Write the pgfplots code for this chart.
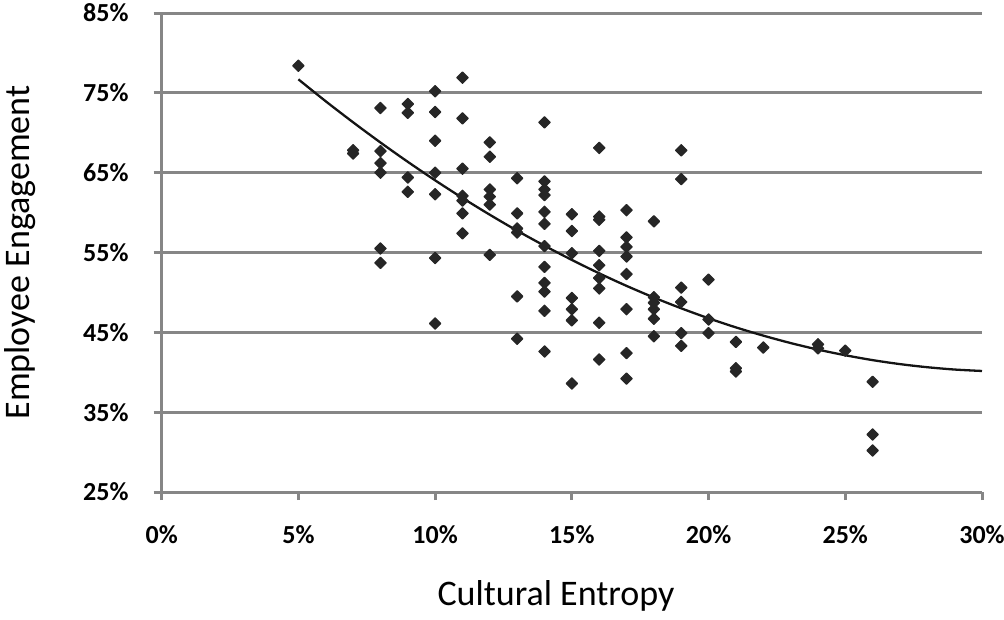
\documentclass[border=0pt]{standalone}
\usepackage{pgfplots}
\pgfplotsset{compat=1.18}
\usepackage{fontspec}
\setmainfont{Carlito}
\definecolor{gridgray}{RGB}{134,134,134}
\definecolor{markc}{RGB}{38,38,38}
\definecolor{trendc}{RGB}{20,20,20}
\begin{document}
\begin{tikzpicture}
\useasboundingbox (-161.7pt,-127pt) rectangle (842.3pt,492pt);
\begin{axis}[
  scale only axis,
  width=820.3pt, height=479pt,
  xmin=0, xmax=30, ymin=25, ymax=85,
  xtick={0,5,...,30}, ytick={25,35,...,85},
  xticklabel={\pgfmathprintnumber{\tick}\%},
  yticklabel={\pgfmathprintnumber{\tick}\%},
  /pgf/number format/assume math mode=true,
  axis lines*=left,
  axis line style={gridgray, line width=3pt},
  tick style={gridgray, line width=3pt},
  tick align=outside,
  major tick length=8pt,
  ymajorgrids,
  grid style={gridgray, line width=3pt},
  xticklabel style={font=\fontsize{26}{30}\selectfont\bfseries, anchor=north, inner sep=0pt, yshift=-25pt},
  yticklabel style={font=\fontsize{26}{30}\selectfont\bfseries, anchor=east, inner sep=0pt, xshift=-25pt},
  xlabel={Cultural Entropy},
  ylabel={Employee Engagement},
  xlabel style={font=\fontsize{36}{40}\selectfont, at={(axis description cs:0.4807,-0.2359)}, anchor=base, inner sep=0pt},
  ylabel style={font=\fontsize{36}{40}\selectfont, at={(axis description cs:-0.1606,0.5)}, anchor=base, rotate=0, inner sep=0pt},
  clip=false,
]
\addplot[only marks, mark=square*, mark size=4pt, mark options={rotate=45, fill=markc, draw=markc, line width=1.2pt, line join=round}] coordinates {
(5,78.4)
(7,67.8) (7,67.4)
(8,73.1) (8,67.7) (8,66.2) (8,65.0) (8,55.5) (8,53.7)
(9,73.6) (9,72.5) (9,64.4) (9,62.6)
(10,75.2) (10,72.6) (10,69.0) (10,65.0) (10,62.3) (10,54.3) (10,46.1)
(11,76.9) (11,71.8) (11,65.5) (11,62.1) (11,61.5) (11,59.9) (11,57.4)
(12,68.8) (12,67.0) (12,62.9) (12,62.0) (12,61.0) (12,54.7)
(13,64.3) (13,59.9) (13,58.0) (13,57.5) (13,49.5) (13,44.2)
(14,71.3) (14,63.9) (14,62.9) (14,62.2) (14,60.1) (14,58.6) (14,55.8) (14,53.2) (14,51.2) (14,50.1) (14,47.7) (14,42.6)
(15,59.8) (15,57.7) (15,54.9) (15,49.3) (15,47.9) (15,46.5) (15,38.6)
(16,68.1) (16,59.5) (16,59.1) (16,55.2) (16,53.4) (16,51.8) (16,50.5) (16,46.2) (16,41.6)
(17,60.3) (17,56.9) (17,55.7) (17,54.5) (17,52.3) (17,47.9) (17,42.4) (17,39.2)
(18,58.9) (18,49.4) (18,48.7) (18,47.9) (18,46.7) (18,44.5)
(19,67.8) (19,64.2) (19,50.6) (19,48.8) (19,44.9) (19,43.3)
(20,51.6) (20,46.6) (20,44.9)
(21,43.8) (21,40.5) (21,40.1)
(22,43.1)
(24,43.5) (24,43.0)
(25,42.7)
(26,38.8) (26,32.2) (26,30.2)
};
\addplot[trendc, line width=2.3pt, smooth, no marks] coordinates {
(5,76.69) (6,73.94) (7,71.31) (8,68.78) (9,66.36) (10,64.04) (11,61.83)
(12,59.73) (13,57.73) (14,55.85) (15,54.07) (16,52.39) (17,50.82) (18,49.36)
(19,48.01) (20,46.76) (21,45.62) (22,44.59) (23,43.66) (24,42.84) (25,42.13)
(26,41.52) (27,41.02) (28,40.63) (29,40.34) (30,40.16)
};
\end{axis}
\end{tikzpicture}
\end{document}
